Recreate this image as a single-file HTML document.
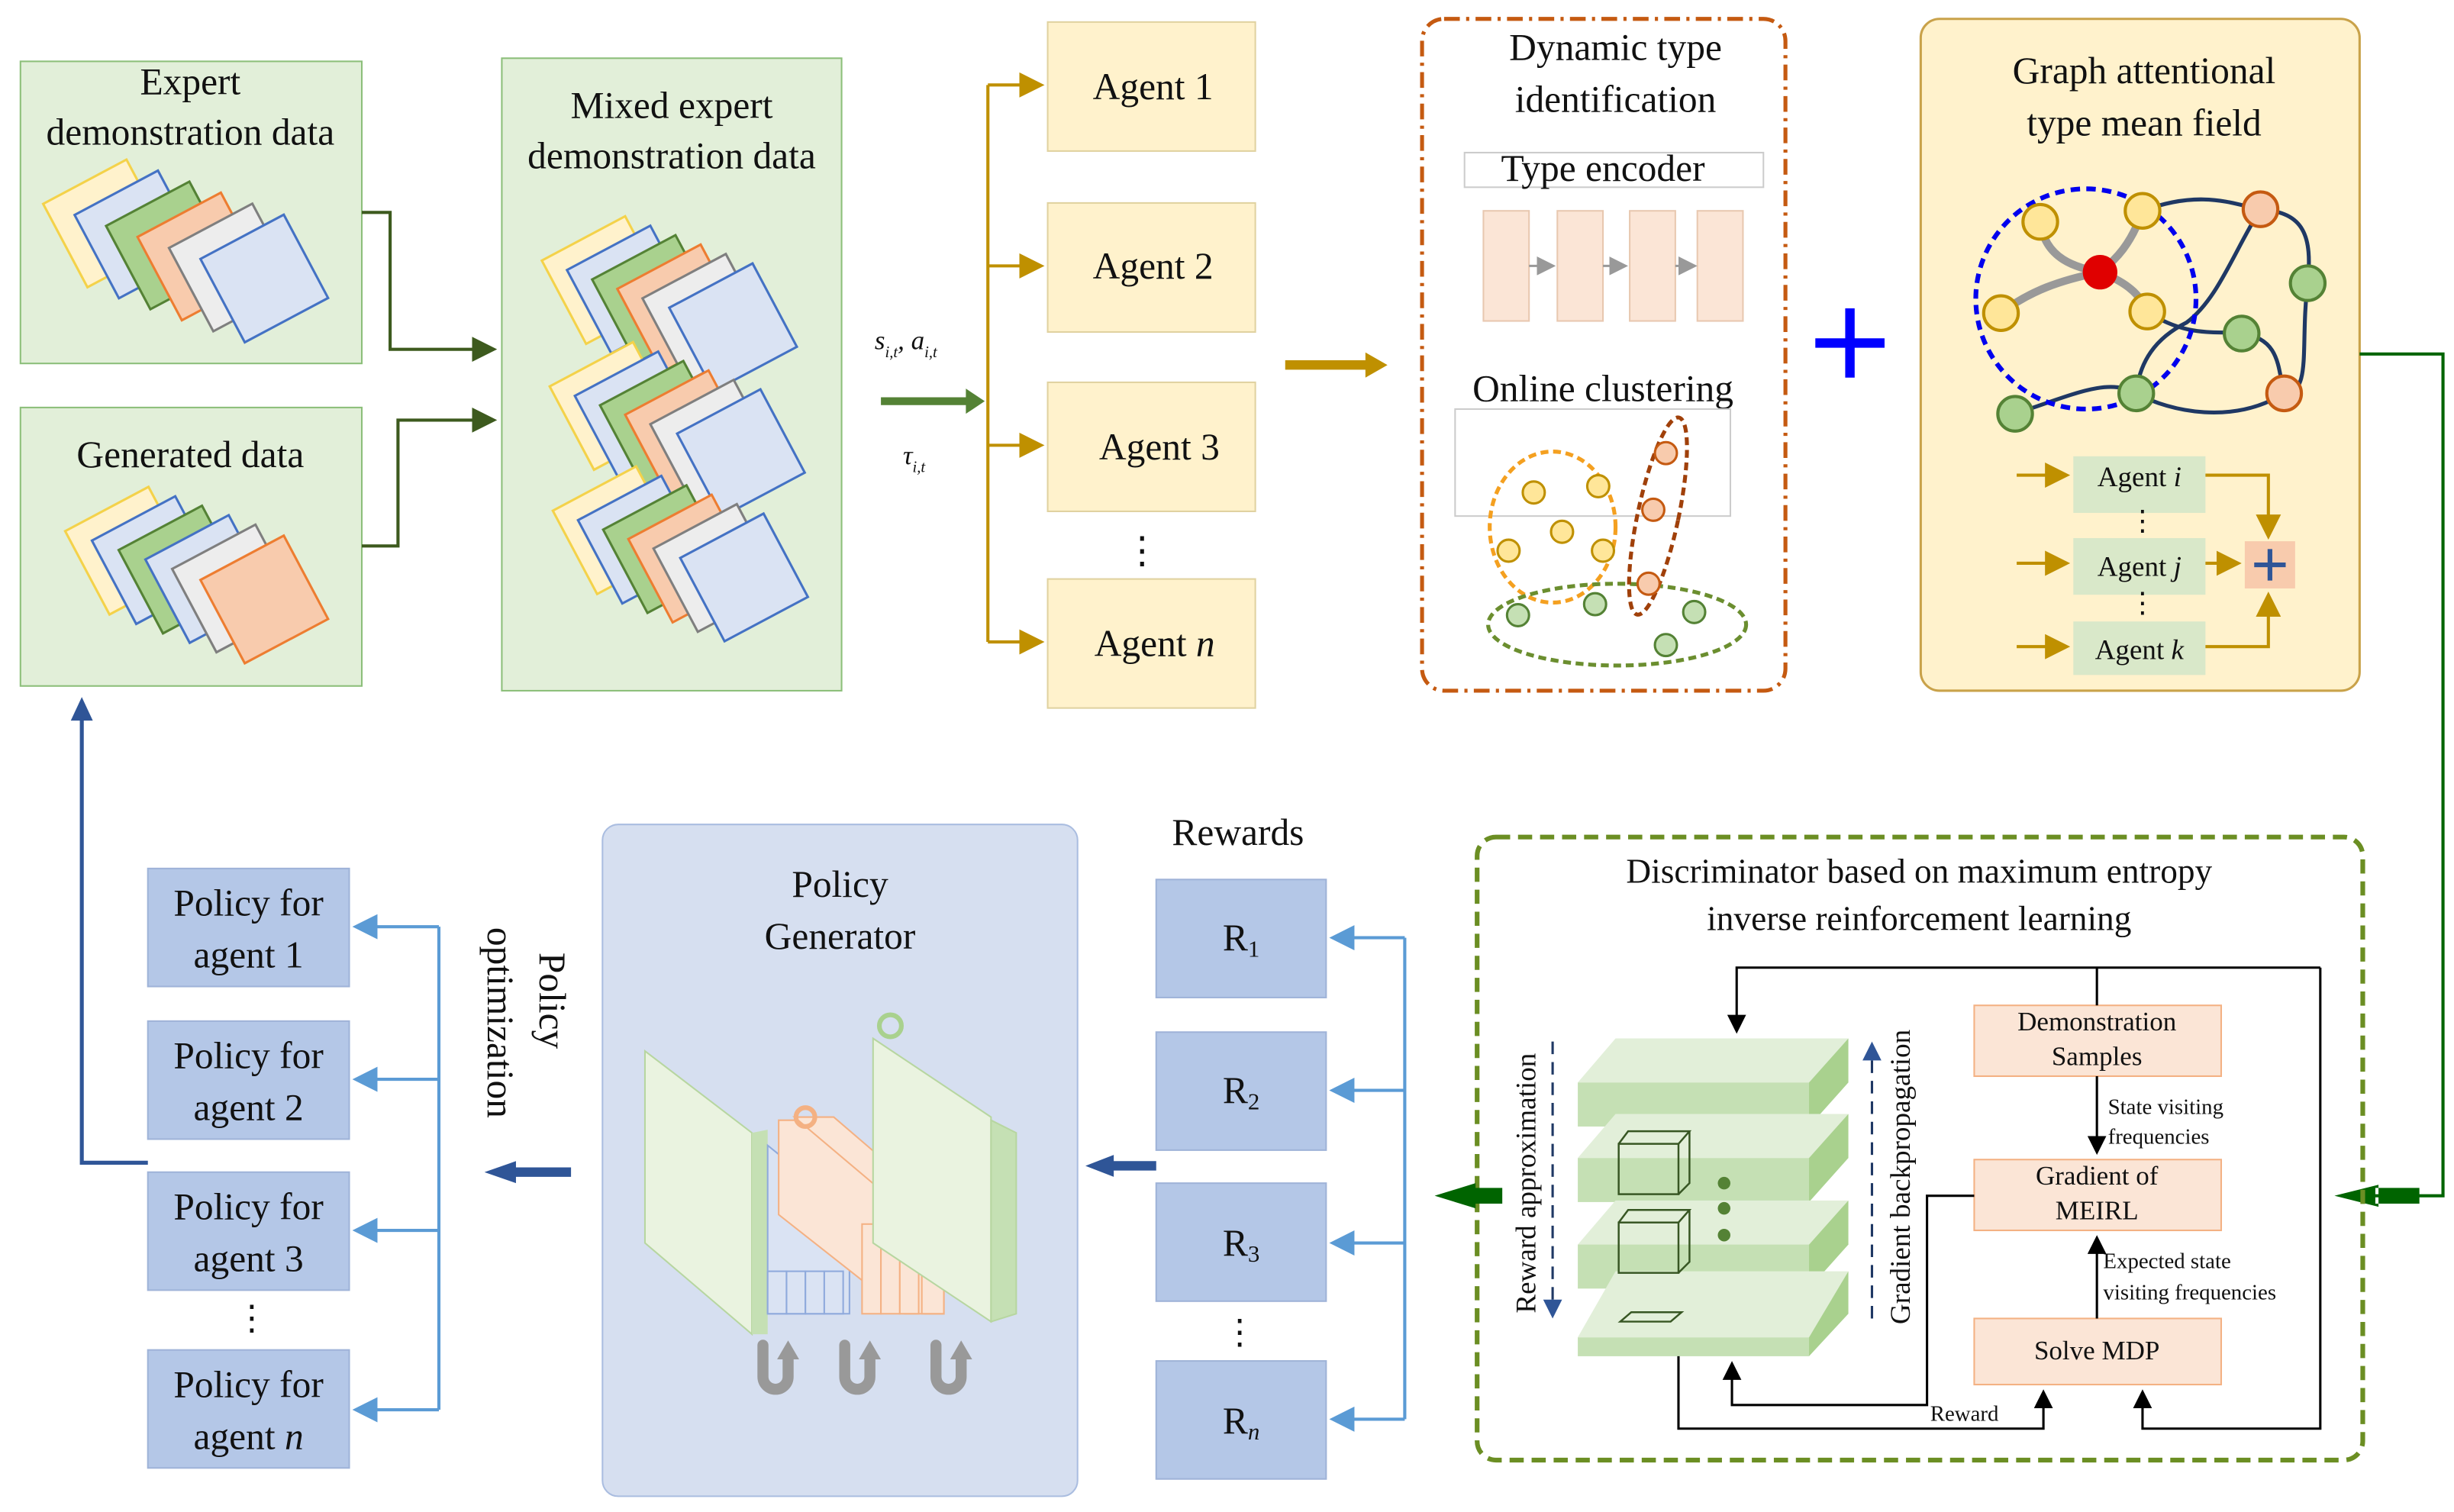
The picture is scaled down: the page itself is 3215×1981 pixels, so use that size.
<!DOCTYPE html>
<html><head><meta charset="utf-8"><style>
html,body{margin:0;padding:0;background:#fff}
svg{display:block}
text{font-family:"Liberation Serif",serif;fill:#111}
</style></head><body>
<svg width="3215" height="1981" viewBox="0 0 1560 961" preserveAspectRatio="none" xmlns="http://www.w3.org/2000/svg">
<defs>
<marker id="ag" markerWidth="8" markerHeight="8" refX="6" refY="4" orient="auto"><path d="M0,0 L8,4 L0,8z" fill="#bf9000"/></marker>
<marker id="ad" markerWidth="8" markerHeight="8" refX="6" refY="4" orient="auto"><path d="M0,0 L8,4 L0,8z" fill="#3d5a1e"/></marker>
<marker id="ab" markerWidth="8" markerHeight="8" refX="6" refY="4" orient="auto"><path d="M0,0 L8,4 L0,8z" fill="#5b9bd5"/></marker>
<marker id="an" markerWidth="8" markerHeight="8" refX="6" refY="4" orient="auto"><path d="M0,0 L8,4 L0,8z" fill="#2f5597"/></marker>
<marker id="ak" markerWidth="8" markerHeight="8" refX="6" refY="4" orient="auto"><path d="M0,0 L8,4 L0,8z" fill="#000"/></marker>
<marker id="agr" markerWidth="8" markerHeight="8" refX="6" refY="4" orient="auto"><path d="M0,0 L8,4 L0,8z" fill="#999"/></marker>
<g id="sq"><rect x="-30" y="-30" width="60" height="60"/></g>
</defs>

<!-- Expert box -->
<rect x="13" y="39" width="217" height="192" fill="#e2efd9" stroke="#8cbf7a"/>
<text x="121" y="60" font-size="24" text-anchor="middle">Expert</text>
<text x="121" y="92" font-size="24" text-anchor="middle">demonstration data</text>
<g stroke-width="1.5">
<use href="#sq" transform="translate(68,142) rotate(-28)" fill="#fff2cc" stroke="#f4d24a"/>
<use href="#sq" transform="translate(88,149) rotate(-28)" fill="#dae3f3" stroke="#4472c4"/>
<use href="#sq" transform="translate(108,156) rotate(-28)" fill="#a9d18e" stroke="#548235"/>
<use href="#sq" transform="translate(128,163) rotate(-28)" fill="#f8cbad" stroke="#ed7d31"/>
<use href="#sq" transform="translate(148,170) rotate(-28)" fill="#ededed" stroke="#7f7f7f"/>
<use href="#sq" transform="translate(168,177) rotate(-28)" fill="#dae3f3" stroke="#4472c4"/>
</g>
<!-- Generated box -->
<rect x="13" y="259" width="217" height="177" fill="#e2efd9" stroke="#8cbf7a"/>
<text x="121" y="297" font-size="24" text-anchor="middle">Generated data</text>
<g stroke-width="1.5">
<use href="#sq" transform="translate(82,350) rotate(-28)" fill="#fff2cc" stroke="#f4d24a"/>
<use href="#sq" transform="translate(99,356) rotate(-28)" fill="#dae3f3" stroke="#4472c4"/>
<use href="#sq" transform="translate(116,362) rotate(-28)" fill="#a9d18e" stroke="#548235"/>
<use href="#sq" transform="translate(133,368) rotate(-28)" fill="#dae3f3" stroke="#4472c4"/>
<use href="#sq" transform="translate(150,374) rotate(-28)" fill="#ededed" stroke="#7f7f7f"/>
<use href="#sq" transform="translate(168,381) rotate(-28)" fill="#f8cbad" stroke="#ed7d31"/>
</g>
<!-- Mixed box -->
<rect x="319" y="37" width="216" height="402" fill="#e2efd9" stroke="#8cbf7a"/>
<text x="427" y="75" font-size="24" text-anchor="middle">Mixed expert</text>
<text x="427" y="107" font-size="24" text-anchor="middle">demonstration data</text>
<g stroke-width="1.5">
<use href="#sq" transform="translate(385,178) rotate(-28)" fill="#fff2cc" stroke="#f4d24a"/>
<use href="#sq" transform="translate(401,184) rotate(-28)" fill="#dae3f3" stroke="#4472c4"/>
<use href="#sq" transform="translate(417,190) rotate(-28)" fill="#a9d18e" stroke="#548235"/>
<use href="#sq" transform="translate(433,196) rotate(-28)" fill="#f8cbad" stroke="#ed7d31"/>
<use href="#sq" transform="translate(449,202) rotate(-28)" fill="#ededed" stroke="#7f7f7f"/>
<use href="#sq" transform="translate(466,208) rotate(-28)" fill="#dae3f3" stroke="#4472c4"/>
<use href="#sq" transform="translate(390,258) rotate(-28)" fill="#fff2cc" stroke="#f4d24a"/>
<use href="#sq" transform="translate(406,264) rotate(-28)" fill="#dae3f3" stroke="#4472c4"/>
<use href="#sq" transform="translate(422,270) rotate(-28)" fill="#a9d18e" stroke="#548235"/>
<use href="#sq" transform="translate(438,276) rotate(-28)" fill="#f8cbad" stroke="#ed7d31"/>
<use href="#sq" transform="translate(454,282) rotate(-28)" fill="#ededed" stroke="#7f7f7f"/>
<use href="#sq" transform="translate(471,288) rotate(-28)" fill="#dae3f3" stroke="#4472c4"/>
<use href="#sq" transform="translate(392,337) rotate(-28)" fill="#fff2cc" stroke="#f4d24a"/>
<use href="#sq" transform="translate(408,343) rotate(-28)" fill="#dae3f3" stroke="#4472c4"/>
<use href="#sq" transform="translate(424,349) rotate(-28)" fill="#a9d18e" stroke="#548235"/>
<use href="#sq" transform="translate(440,355) rotate(-28)" fill="#f8cbad" stroke="#ed7d31"/>
<use href="#sq" transform="translate(456,361) rotate(-28)" fill="#ededed" stroke="#7f7f7f"/>
<use href="#sq" transform="translate(473,367) rotate(-28)" fill="#dae3f3" stroke="#4472c4"/>
</g>
<path d="M230,135 H248 V222 H312" fill="none" stroke="#3d5a1e" stroke-width="2" marker-end="url(#ad)"/>
<path d="M230,347 H253 V267 H312" fill="none" stroke="#3d5a1e" stroke-width="2" marker-end="url(#ad)"/>

<!-- s,a,tau -->
<text x="556" y="222" font-size="17" font-style="italic">s<tspan font-size="10" dy="5">i,t</tspan><tspan dy="-5">, a</tspan><tspan font-size="10" dy="5">i,t</tspan></text>
<text x="574" y="295" font-size="17" font-style="italic">τ<tspan font-size="10" dy="5">i,t</tspan></text>
<path d="M560,255 H616" stroke="#548235" stroke-width="5" fill="none"/>
<path d="M614,247 L626,255 L614,263z" fill="#548235"/>

<!-- Agents -->
<path d="M628,54 V408" stroke="#bf9000" stroke-width="2"/>
<g stroke="#bf9000" stroke-width="2" fill="none">
<path d="M628,54 H660" marker-end="url(#ag)"/><path d="M628,169 H660" marker-end="url(#ag)"/>
<path d="M628,283 H660" marker-end="url(#ag)"/><path d="M628,408 H660" marker-end="url(#ag)"/>
</g>
<g fill="#fff2cc" stroke="#e0d2a0">
<rect x="666" y="14" width="132" height="82"/><rect x="666" y="129" width="132" height="82"/>
<rect x="666" y="243" width="132" height="82"/><rect x="666" y="368" width="132" height="82"/>
</g>
<g font-size="24" text-anchor="middle">
<text x="733" y="63">Agent 1</text><text x="733" y="177">Agent 2</text>
<text x="737" y="292">Agent 3</text><text x="734" y="417">Agent <tspan font-style="italic">n</tspan></text>
</g>
<text x="726" y="358" font-size="24" text-anchor="middle">⋮</text>
<path d="M817,232 H870" stroke="#bf9000" stroke-width="6"/>
<path d="M868,224 L882,232 L868,240z" fill="#bf9000"/>

<!-- Dynamic type box -->
<rect x="904" y="12" width="231" height="427" rx="14" fill="none" stroke="#c55a11" stroke-width="2.5" stroke-dasharray="10,4,2,4"/>
<text x="1027" y="38" font-size="24" text-anchor="middle">Dynamic type</text>
<text x="1027" y="71" font-size="24" text-anchor="middle">identification</text>
<rect x="931" y="97" width="190" height="22" fill="#fff" stroke="#ccc"/>
<text x="1019" y="115" font-size="24" text-anchor="middle">Type encoder</text>
<g fill="#fbe5d6" stroke="#e8c8b0">
<rect x="943" y="134" width="29" height="70"/><rect x="990" y="134" width="29" height="70"/>
<rect x="1036" y="134" width="29" height="70"/><rect x="1079" y="134" width="29" height="70"/>
</g>
<g stroke="#999" stroke-width="1.5"><path d="M972,169 H986" marker-end="url(#agr)"/><path d="M1019,169 H1032" marker-end="url(#agr)"/><path d="M1065,169 H1076" marker-end="url(#agr)"/></g>
<text x="1019" y="255" font-size="24" text-anchor="middle">Online clustering</text>
<rect x="925" y="260" width="175" height="68" fill="none" stroke="#ccc"/>
<ellipse cx="987" cy="335" rx="40" ry="48" fill="none" stroke="#f4a020" stroke-width="2.5" stroke-dasharray="5,3"/>
<ellipse cx="1028" cy="397" rx="82" ry="26" fill="none" stroke="#6b8e2f" stroke-width="2.5" stroke-dasharray="5,3"/>
<ellipse cx="1054" cy="328" rx="13" ry="64" transform="rotate(12 1054 328)" fill="none" stroke="#a0400a" stroke-width="2.5" stroke-dasharray="5,3"/>
<g fill="#ffe699" stroke="#bf9000" stroke-width="1.5">
<circle cx="975" cy="313" r="7"/><circle cx="1016" cy="309" r="7"/><circle cx="993" cy="338" r="7"/><circle cx="959" cy="350" r="7"/><circle cx="1019" cy="350" r="7"/></g>
<g fill="#f8cbad" stroke="#c55a11" stroke-width="1.5"><circle cx="1059" cy="288" r="7"/><circle cx="1051" cy="324" r="7"/><circle cx="1048" cy="371" r="7"/></g>
<g fill="#c5e0b4" stroke="#548235" stroke-width="1.5"><circle cx="965" cy="391" r="7"/><circle cx="1014" cy="384" r="7"/><circle cx="1077" cy="389" r="7"/><circle cx="1059" cy="410" r="7"/></g>

<!-- plus -->
<path d="M1176,196 V240 M1154,218 H1198" stroke="#0000ff" stroke-width="6"/>

<!-- Graph box -->
<rect x="1221" y="12" width="279" height="427" rx="12" fill="#fff2cc" stroke="#c9a24a" stroke-width="1.5"/>
<text x="1363" y="53" font-size="24" text-anchor="middle">Graph attentional</text>
<text x="1363" y="86" font-size="24" text-anchor="middle">type mean field</text>
<g fill="none" stroke="#1f3864" stroke-width="2.5">
<path d="M1362,134 C1400,120 1420,130 1437,133 C1465,135 1470,150 1467,180 C1462,220 1470,250 1452,250"/>
<path d="M1437,133 C1420,160 1410,190 1390,205 C1370,215 1360,230 1358,250"/>
<path d="M1365,198 C1390,215 1410,210 1425,212 C1450,215 1448,235 1452,250"/>
<path d="M1281,263 C1320,250 1340,240 1358,250 C1380,262 1420,270 1452,250"/>
</g>
<g fill="none" stroke="#999" stroke-width="5" stroke-linecap="round">
<path d="M1297,141 C1300,165 1320,170 1335,173"/><path d="M1362,134 C1355,155 1345,165 1335,173"/>
<path d="M1272,199 C1290,185 1310,178 1335,173"/><path d="M1365,198 C1360,185 1348,178 1335,173"/>
</g>
<circle cx="1326" cy="190" r="70" fill="none" stroke="#0000ee" stroke-width="3" stroke-dasharray="6,4"/>
<circle cx="1335" cy="173" r="11" fill="#e00000"/>
<g fill="#ffe699" stroke="#bf9000" stroke-width="2"><circle cx="1297" cy="141" r="11"/><circle cx="1362" cy="134" r="11"/><circle cx="1272" cy="199" r="11"/><circle cx="1365" cy="198" r="11"/></g>
<g fill="#f8cbad" stroke="#c55a11" stroke-width="2"><circle cx="1437" cy="133" r="11"/><circle cx="1452" cy="250" r="11"/></g>
<g fill="#a9d18e" stroke="#548235" stroke-width="2"><circle cx="1467" cy="180" r="11"/><circle cx="1425" cy="212" r="11"/><circle cx="1358" cy="250" r="11"/><circle cx="1281" cy="263" r="11"/></g>
<g fill="#d9e8c9" stroke="none"><rect x="1318" y="290" width="84" height="36"/><rect x="1318" y="342" width="84" height="36"/><rect x="1318" y="395" width="84" height="34"/></g>
<g font-size="18" text-anchor="middle"><text x="1360" y="309">Agent <tspan font-style="italic">i</tspan></text><text x="1360" y="366">Agent <tspan font-style="italic">j</tspan></text><text x="1360" y="419">Agent <tspan font-style="italic">k</tspan></text></g>
<text x="1362" y="337" font-size="18" text-anchor="middle">⋮</text><text x="1362" y="389" font-size="18" text-anchor="middle">⋮</text>
<g stroke="#bf9000" stroke-width="2" fill="none">
<path d="M1282,302 H1312" marker-end="url(#ag)"/><path d="M1282,358 H1312" marker-end="url(#ag)"/><path d="M1282,411 H1312" marker-end="url(#ag)"/>
<path d="M1402,302 H1442 V339" marker-end="url(#ag)"/><path d="M1402,358 H1421" marker-end="url(#ag)"/><path d="M1402,411 H1442 V380" marker-end="url(#ag)"/>
</g>
<rect x="1427" y="344" width="32" height="30" fill="#f8cbad"/>
<path d="M1443,349 V369 M1433,359 H1453" stroke="#2f5597" stroke-width="3"/>
<path d="M1500,225 H1553 V760 H1500" fill="none" stroke="#006400" stroke-width="2"/>
<path d="M1512,753 L1484,760 L1512,767z M1510,755 H1538 V765 H1510z" fill="#006400"/>

<!-- Discriminator -->
<rect x="939" y="532" width="563" height="396" rx="12" fill="none" stroke="#6b8e23" stroke-width="3" stroke-dasharray="9,5"/>
<text x="1220" y="561" font-size="22" text-anchor="middle">Discriminator based on maximum entropy</text>
<text x="1220" y="591" font-size="22" text-anchor="middle">inverse reinforcement learning</text>
<g>
<g transform="translate(0,0)"><path d="M1003,688 L1027,660 H1175 L1150,688z" fill="#e2efd9"/><rect x="1003" y="688" width="147" height="28" fill="#c5e0b4"/><path d="M1150,688 L1175,660 V688 L1150,716z" fill="#a9d18e"/></g>
<g transform="translate(0,48)"><path d="M1003,688 L1027,660 H1175 L1150,688z" fill="#e2efd9"/><rect x="1003" y="688" width="147" height="28" fill="#c5e0b4"/><path d="M1150,688 L1175,660 V688 L1150,716z" fill="#a9d18e"/></g>
<g transform="translate(0,103)"><path d="M1003,688 L1027,660 H1175 L1150,688z" fill="#e2efd9"/><rect x="1003" y="688" width="147" height="28" fill="#c5e0b4"/><path d="M1150,688 L1175,660 V688 L1150,716z" fill="#a9d18e"/></g>
<path d="M1003,850 L1027,808 H1175 L1150,850z" fill="#e2efd9"/><rect x="1003" y="850" width="147" height="12" fill="#c5e0b4"/><path d="M1150,850 L1175,808 V835 L1150,862z" fill="#a9d18e"/>
<g fill="none" stroke="#375623" stroke-width="1.2"><rect x="1029" y="727" width="38" height="32"/><path d="M1029,727 L1035,719 H1074 L1067,727 M1074,719 V752 L1067,759"/>
<rect x="1029" y="777" width="38" height="32"/><path d="M1029,777 L1035,769 H1074 L1067,777 M1074,769 V802 L1067,809"/>
<path d="M1030,840 L1037,834 H1069 L1062,840z"/></g>
<g fill="#548235"><circle cx="1096" cy="752" r="4"/><circle cx="1096" cy="768" r="4"/><circle cx="1096" cy="785" r="4"/></g>
</g>
<path d="M987,662 V835" stroke="#1f3864" stroke-width="1.5" stroke-dasharray="8,5" marker-end="url(#an)"/>
<path d="M1190,838 V665" stroke="#1f3864" stroke-width="1.5" stroke-dasharray="8,5" marker-end="url(#an)"/>
<text transform="translate(976,752) rotate(-90)" font-size="18" text-anchor="middle">Reward approximation</text>
<text transform="translate(1214,748) rotate(-90)" font-size="18" text-anchor="middle">Gradient backpropagation</text>
<g fill="#fbe5d6" stroke="#f4b183"><rect x="1255" y="639" width="157" height="45"/><rect x="1255" y="737" width="157" height="45"/><rect x="1255" y="838" width="157" height="42"/></g>
<g font-size="17" text-anchor="middle"><text x="1333" y="655">Demonstration</text><text x="1333" y="677">Samples</text><text x="1333" y="753">Gradient of</text><text x="1333" y="775">MEIRL</text><text x="1333" y="864">Solve  MDP</text></g>
<g font-size="14"><text x="1340" y="708">State visiting</text><text x="1340" y="727">frequencies</text><text x="1337" y="806">Expected state</text><text x="1337" y="826">visiting frequencies</text><text x="1227" y="903">Reward</text></g>
<g fill="none" stroke="#000" stroke-width="1.5">
<path d="M1333,615 V639"/><path d="M1333,684 V731" marker-end="url(#ak)"/><path d="M1333,838 V788" marker-end="url(#ak)"/>
<path d="M1475,615 H1104 V654" marker-end="url(#ak)"/>
<path d="M1475,615 V908 H1362 V886" marker-end="url(#ak)"/>
<path d="M1067,862 V908 H1299 V886" marker-end="url(#ak)"/>
<path d="M1255,760 H1225 V893 H1101 V868" marker-end="url(#ak)"/>
</g>
<path d="M955,760 H935" stroke="#006400" stroke-width="10"/><path d="M938,752 L912,760 L938,768z" fill="#006400"/>

<!-- Rewards -->
<text x="787" y="537" font-size="24" text-anchor="middle">Rewards</text>
<g fill="#b4c7e7" stroke="#9fb3d8"><rect x="735" y="559" width="108" height="75"/><rect x="735" y="656" width="108" height="75"/><rect x="735" y="752" width="108" height="75"/><rect x="735" y="865" width="108" height="75"/></g>
<g font-size="24" text-anchor="middle"><text x="789" y="604">R<tspan font-size="15" dy="4">1</tspan></text><text x="789" y="701">R<tspan font-size="15" dy="4">2</tspan></text><text x="789" y="798">R<tspan font-size="15" dy="4">3</tspan></text><text x="789" y="911">R<tspan font-size="15" dy="4" font-style="italic">n</tspan></text></g>
<text x="788" y="854" font-size="22" text-anchor="middle">⋮</text>
<g fill="none" stroke="#5b9bd5" stroke-width="2"><path d="M893,596 V902"/><path d="M893,596 H849" marker-end="url(#ab)"/><path d="M893,693 H849" marker-end="url(#ab)"/><path d="M893,790 H849" marker-end="url(#ab)"/><path d="M893,902 H849" marker-end="url(#ab)"/></g>
<path d="M735,741 H705" stroke="#2f5597" stroke-width="6"/><path d="M708,734 L690,741 L708,748z" fill="#2f5597"/>

<!-- Policy generator -->
<rect x="383" y="524" width="302" height="427" rx="10" fill="#d6dff0" stroke="#aabde0"/>
<text x="534" y="570" font-size="24" text-anchor="middle">Policy</text>
<text x="534" y="603" font-size="24" text-anchor="middle">Generator</text>
<g>
<path d="M410,665 L430,670 V820 L475,848 H488 V838 L430,805" fill="none"/>
<path d="M410,668 L478,720 V848 L410,790z" fill="#eaf3e0" stroke="#b7d6a0"/>
<path d="M478,720 L488,718 V848 L478,848z" fill="#c5e0b4"/>
<g fill="#dae3f3" stroke="#8faadc"><path d="M488,728 L540,770 V835 H488z"/><rect x="488" y="808" width="12" height="27"/><rect x="500" y="808" width="12" height="27"/><rect x="512" y="808" width="12" height="27"/><rect x="524" y="808" width="12" height="27"/></g>
<g fill="#fbe5d6" stroke="#f4b183"><path d="M495,712 L520,712 L600,775 V835 H575 L495,772z"/><path d="M505,710 L530,710 L600,770 V835 H588 V780z"/><rect x="548" y="778" width="12" height="57"/><rect x="560" y="778" width="12" height="57"/><rect x="572" y="778" width="12" height="57"/><rect x="586" y="778" width="14" height="57"/></g>
<path d="M555,660 L630,710 V840 L555,790z" fill="#eaf3e0" stroke="#b7d6a0"/>
<path d="M630,712 L646,720 V835 L630,840z" fill="#c5e0b4" stroke="#b7d6a0"/>
<circle cx="566" cy="652" r="7" fill="none" stroke="#a9d18e" stroke-width="3"/>
<circle cx="512" cy="710" r="6" fill="none" stroke="#f4b183" stroke-width="3"/>
</g>
<g fill="none" stroke="#999" stroke-width="7" stroke-linecap="round">
<path d="M485,855 V875 A8,8 0 0 0 501,875 V862"/><path d="M537,855 V875 A8,8 0 0 0 553,875 V862"/><path d="M595,855 V875 A8,8 0 0 0 611,875 V862"/>
</g>
<g fill="#999"><path d="M494,864 L501,852 L508,864z"/><path d="M546,864 L553,852 L560,864z"/><path d="M604,864 L611,852 L618,864z"/></g>
<path d="M363,745 H325" stroke="#2f5597" stroke-width="6"/><path d="M328,738 L308,745 L328,752z" fill="#2f5597"/>
<text transform="translate(310,650) rotate(90)" font-size="24" text-anchor="middle">optimization</text>
<text transform="translate(343,636) rotate(90)" font-size="24" text-anchor="middle">Policy</text>

<!-- Policies -->
<g fill="#b4c7e7" stroke="#9fb3d8"><rect x="94" y="552" width="128" height="75"/><rect x="94" y="649" width="128" height="75"/><rect x="94" y="745" width="128" height="75"/><rect x="94" y="858" width="128" height="75"/></g>
<g font-size="24" text-anchor="middle">
<text x="158" y="582">Policy for</text><text x="158" y="615">agent 1</text>
<text x="158" y="679">Policy for</text><text x="158" y="712">agent 2</text>
<text x="158" y="775">Policy for</text><text x="158" y="808">agent 3</text>
<text x="158" y="888">Policy for</text><text x="158" y="921">agent <tspan font-style="italic">n</tspan></text>
</g>
<text x="160" y="845" font-size="22" text-anchor="middle">⋮</text>
<g fill="none" stroke="#5b9bd5" stroke-width="2"><path d="M279,589 V896"/><path d="M279,589 H228" marker-end="url(#ab)"/><path d="M279,686 H228" marker-end="url(#ab)"/><path d="M279,782 H228" marker-end="url(#ab)"/><path d="M279,896 H228" marker-end="url(#ab)"/></g>
<path d="M94,739 H52 V452" fill="none" stroke="#2f5597" stroke-width="2.5"/>
<path d="M45,458 L52,443 L59,458z" fill="#2f5597"/>
</svg>
</body></html>
